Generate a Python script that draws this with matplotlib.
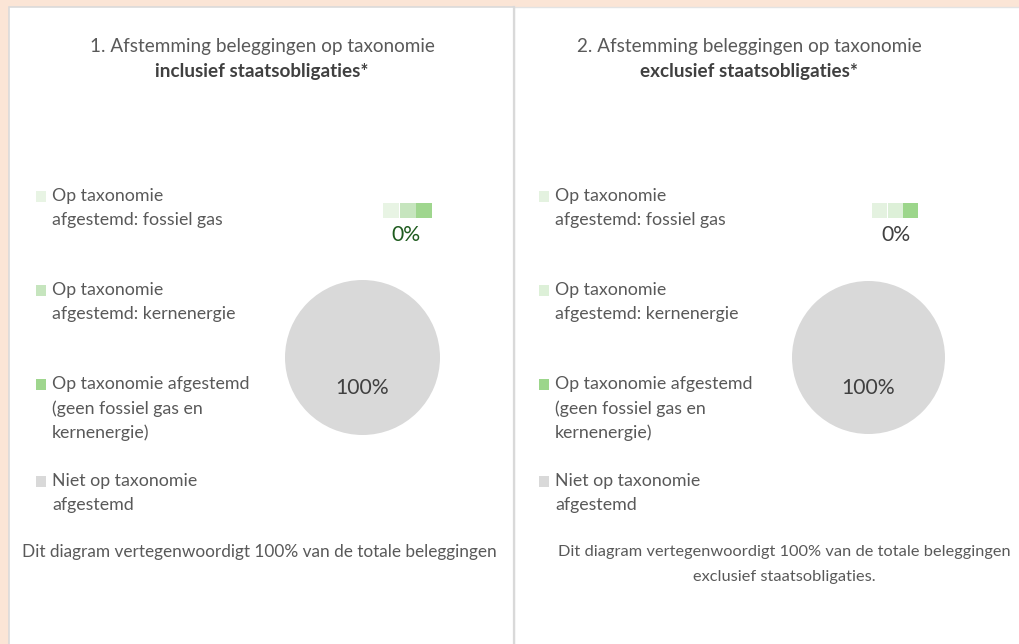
import matplotlib
matplotlib.use("Agg")
import matplotlib.pyplot as plt
from matplotlib.patches import Rectangle

plt.rcParams["font.family"] = ["Lato", "DejaVu Sans"]

# data
categories = [
    "Op taxonomie\nafgestemd: fossiel gas",
    "Op taxonomie\nafgestemd: kernenergie",
    "Op taxonomie afgestemd\n(geen fossiel gas en\nkernenergie)",
    "Niet op taxonomie\nafgestemd",
]
values_incl = [0, 0, 0, 100]
values_excl = [0, 0, 0, 100]
colors_incl = ["#E8F4E4", "#C6E5BE", "#9FD68E", "#D9D9D9"]
colors_excl = ["#E4F2E0", "#DDF0D8", "#9CD68B", "#D9D9D9"]
titles = ["1. Afstemming beleggingen op taxonomie", "2. Afstemming beleggingen op taxonomie"]
subtitles = ["inclusief staatsobligaties*", "exclusief staatsobligaties*"]
notes = ["Dit diagram vertegenwoordigt 100% van de totale beleggingen",
         "Dit diagram vertegenwoordigt 100% van de totale beleggingen\nexclusief staatsobligaties."]

W, H = 1020, 644
PEACH = "#FBE5D6"
GREY_TXT = "#595959"
DARK_TXT = "#404040"

fig = plt.figure(figsize=(W / 100, H / 100), dpi=100)
fig.patch.set_facecolor(PEACH)
bg = fig.add_axes([0, 0, 1, 1])
bg.set_xlim(0, W); bg.set_ylim(H, 0); bg.axis("off")

# panels
bg.add_patch(Rectangle((9, 7), 505, H, facecolor="white", edgecolor="#DADADA", lw=1.2))
bg.add_patch(Rectangle((514, 7), W - 514 + 5, H, facecolor="white", edgecolor="#E3E3E3", lw=1.0))
bg.plot([514, 514], [7, H], color="#D9D9D9", lw=1.6)

panels = [
    dict(vals=values_incl, cols=colors_incl, cx=362.5, cy=357.5, r=77.5, tx=262, lx=36,
         nx=259, nfs=12.4, sq=(383, 16.7), zx=406, zc="#1E5B1E"),
    dict(vals=values_excl, cols=colors_excl, cx=868.5, cy=357.5, r=76.5, tx=749, lx=539,
         nx=784, nfs=11.8, sq=(872, 15.7), zx=896, zc=DARK_TXT),
]
entry_y = [196, 290, 384, 481]
fs_title, fs_leg, fs_pct = 13.6, 12.8, 15.2

for i, p in enumerate(panels):
    bg.text(p["tx"], 46, titles[i], ha="center", va="center", fontsize=fs_title, color=GREY_TXT)
    bg.text(p["tx"], 71, subtitles[i], ha="center", va="center", fontsize=fs_title,
            color=DARK_TXT, fontweight="bold")

    # legend
    for k, (lab, col) in enumerate(zip(categories, p["cols"])):
        y0 = entry_y[k]
        bg.add_patch(Rectangle((p["lx"], y0 - 5), 10.5, 10.5, facecolor=col, edgecolor="none"))
        for j, line in enumerate(lab.split("\n")):
            bg.text(p["lx"] + 16, y0 + j * 24.3, line, ha="left", va="center",
                    fontsize=fs_leg, color=GREY_TXT)

    # note
    for j, line in enumerate(notes[i].split("\n")):
        bg.text(p["nx"], 552 + j * 25, line, ha="center", va="center", fontsize=p["nfs"], color=GREY_TXT)

    # pie
    cx, cy, r = p["cx"], p["cy"], p["r"]
    ax = fig.add_axes([(cx - 2 * r) / W, 1 - (cy + 2 * r) / H, 4 * r / W, 4 * r / H])
    ax.pie(p["vals"], colors=p["cols"], startangle=90, counterclock=False,
           autopct=lambda v: f"{v:.0f}%" if v > 0 else "", pctdistance=0.4,
           textprops=dict(fontsize=fs_pct, color=DARK_TXT),
           wedgeprops=dict(edgecolor="white", linewidth=0))
    ax.set_xlim(-2, 2); ax.set_ylim(-2, 2); ax.set_aspect("equal"); ax.axis("off")

    # zero-value labels with legend keys
    x0, w = p["sq"]
    zeros = [(v, c) for v, c in zip(p["vals"], p["cols"]) if v == 0]
    for k, (v, c) in enumerate(zeros):
        bg.add_patch(Rectangle((x0 + k * w, 203), w - 0.8, 15, facecolor=c, edgecolor="none"))
    if zeros:
        bg.text(p["zx"], 235, f"{zeros[0][0]:.0f}%", ha="center", va="center",
                fontsize=fs_pct, color=p["zc"])

fig.savefig("out.png", dpi=100, facecolor=PEACH)
